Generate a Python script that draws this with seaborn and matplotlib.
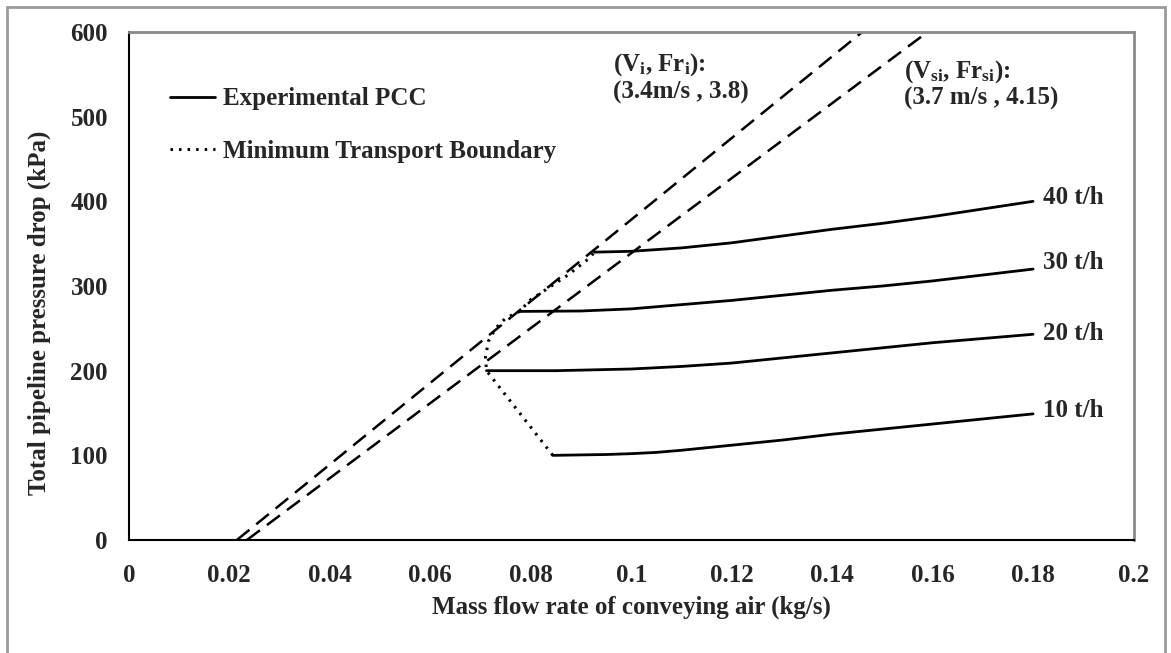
import matplotlib
matplotlib.use("Agg")
import matplotlib.pyplot as plt
import seaborn as sns
import pandas as pd
from matplotlib.patches import Rectangle

# ---- data ----
rates = ["10 t/h", "20 t/h", "30 t/h", "40 t/h"]
x_10 = [0.0844, 0.095, 0.10, 0.105, 0.11, 0.12, 0.13, 0.14, 0.15, 0.16, 0.17, 0.18]
y_10 = [100, 101, 102, 103.5, 106, 112, 118, 125, 131, 137, 143, 149]
x_20 = [0.0712, 0.085, 0.10, 0.11, 0.12, 0.13, 0.14, 0.15, 0.16, 0.17, 0.18]
y_20 = [200, 200, 202, 205, 209, 215, 221, 227, 233, 238, 243]
x_30 = [0.0778, 0.09, 0.10, 0.11, 0.12, 0.13, 0.14, 0.15, 0.16, 0.17, 0.18]
y_30 = [270, 270.5, 273, 278, 283, 289, 295, 300, 306, 313, 320]
x_40 = [0.0927, 0.10, 0.11, 0.12, 0.13, 0.14, 0.15, 0.16, 0.17, 0.18]
y_40 = [340, 341, 345, 351, 359, 367, 374, 382, 391, 400]

mtb_x = [0.0844, 0.0712, 0.0710, 0.0716, 0.0730, 0.0750, 0.0778, 0.0798, 0.0874, 0.0917, 0.0927]
mtb_y = [100, 200, 216, 235, 250, 262, 270, 283, 313, 333, 340]

vi_x = [0.0215, 0.146]
vi_y = [0, 600]
vsi_x = [0.0235, 0.159]
vsi_y = [0, 600]

label_y = [153, 244, 328, 405]
label_x = 0.182

xticks = [0, 0.02, 0.04, 0.06, 0.08, 0.1, 0.12, 0.14, 0.16, 0.18, 0.2]
xticklabels = ["0", "0.02", "0.04", "0.06", "0.08", "0.1", "0.12", "0.14", "0.16", "0.18", "0.2"]
yticks = [0, 100, 200, 300, 400, 500, 600]

# ---- style ----
sns.set_theme(style="white")
plt.rcParams["font.family"] = ["Liberation Serif", "DejaVu Serif"]
plt.rcParams["font.weight"] = "bold"
plt.rcParams["mathtext.fontset"] = "custom"
plt.rcParams["mathtext.rm"] = "Liberation Serif:bold"
plt.rcParams["mathtext.it"] = "Liberation Serif:bold"
plt.rcParams["mathtext.bf"] = "Liberation Serif:bold"

FS = 18

fig = plt.figure(figsize=(11.71, 6.53), dpi=100)
ax = fig.add_axes([0.110, 0.173, 0.858, 0.778])

fig.patches.append(Rectangle((7 / 1171, -0.05), 1158 / 1171, 1 - 7 / 653 + 0.05,
                             transform=fig.transFigure, fill=False,
                             edgecolor="#9a9a9a", linewidth=2.0, zorder=0))

series = [(x_10, y_10), (x_20, y_20), (x_30, y_30), (x_40, y_40)]
for i, (xs, ys) in enumerate(series):
    df = pd.DataFrame({"x": xs, "y": ys})
    sns.lineplot(data=df, x="x", y="y", ax=ax, color="black", linewidth=2.0,
                 label="Experimental PCC" if i == 0 else None, legend=False)

df_b = pd.DataFrame({"x": mtb_x, "y": mtb_y})
sns.lineplot(data=df_b, x="x", y="y", ax=ax, sort=False, color="black",
             linewidth=2.2, linestyle=(0, (0.8, 2.0)),
             label="Minimum Transport Boundary", legend=False)

for xs, ys in [(vi_x, vi_y), (vsi_x, vsi_y)]:
    df = pd.DataFrame({"x": xs, "y": ys})
    sns.lineplot(data=df, x="x", y="y", ax=ax, color="black", linewidth=1.8,
                 linestyle=(0, (6.5, 3.5)), legend=False)

for r, yv in zip(rates, label_y):
    ax.text(label_x, yv, r, fontsize=FS, fontweight="bold", va="center", ha="left")

ax.text(0.0963, 561, "(V$_{\\rm i}$, Fr$_{\\rm i}$):", fontsize=FS, fontweight="bold", va="center")
ax.text(0.0963, 529, "(3.4m/s , 3.8)", fontsize=FS, fontweight="bold", va="center")
ax.text(0.1544, 553, "(V$_{\\rm si}$, Fr$_{\\rm si}$):", fontsize=FS, fontweight="bold", va="center")
ax.text(0.1544, 521, "(3.7 m/s , 4.15)", fontsize=FS, fontweight="bold", va="center")

ax.set_xlim(0, 0.2)
ax.set_ylim(0, 600)
ax.set_xticks(xticks)
ax.set_xticklabels(xticklabels)
ax.set_yticks(yticks)
ax.tick_params(axis="both", which="major", direction="out", length=6, width=1.3,
               color="black", labelsize=FS)
ax.tick_params(axis="x", pad=11)
ax.tick_params(axis="y", pad=9)
for lab in ax.get_xticklabels() + ax.get_yticklabels():
    lab.set_fontweight("bold")

ax.set_xlabel("Mass flow rate of conveying air (kg/s)", fontsize=FS, fontweight="bold")
ax.set_ylabel("Total pipeline pressure drop (kPa)", fontsize=FS, fontweight="bold")
ax.xaxis.set_label_coords(0.5, -0.132)
ax.xaxis.label.set_va("center")
ax.yaxis.set_label_coords(-0.0895, 0.447)
ax.yaxis.label.set_va("center")

for s in ["left", "bottom"]:
    ax.spines[s].set_color("black")
    ax.spines[s].set_linewidth(1.5)
for s in ["top", "right"]:
    ax.spines[s].set_color("#8a8a8a")
    ax.spines[s].set_linewidth(2.0)

leg = ax.legend(loc="upper left", bbox_to_anchor=(0.041, 0.891), frameon=False,
                handlelength=1.8, handletextpad=0.3, labelspacing=1.17,
                borderpad=0, borderaxespad=0,
                prop={"weight": "bold", "size": FS})

fig.savefig("out.png", dpi=100, facecolor="white")
